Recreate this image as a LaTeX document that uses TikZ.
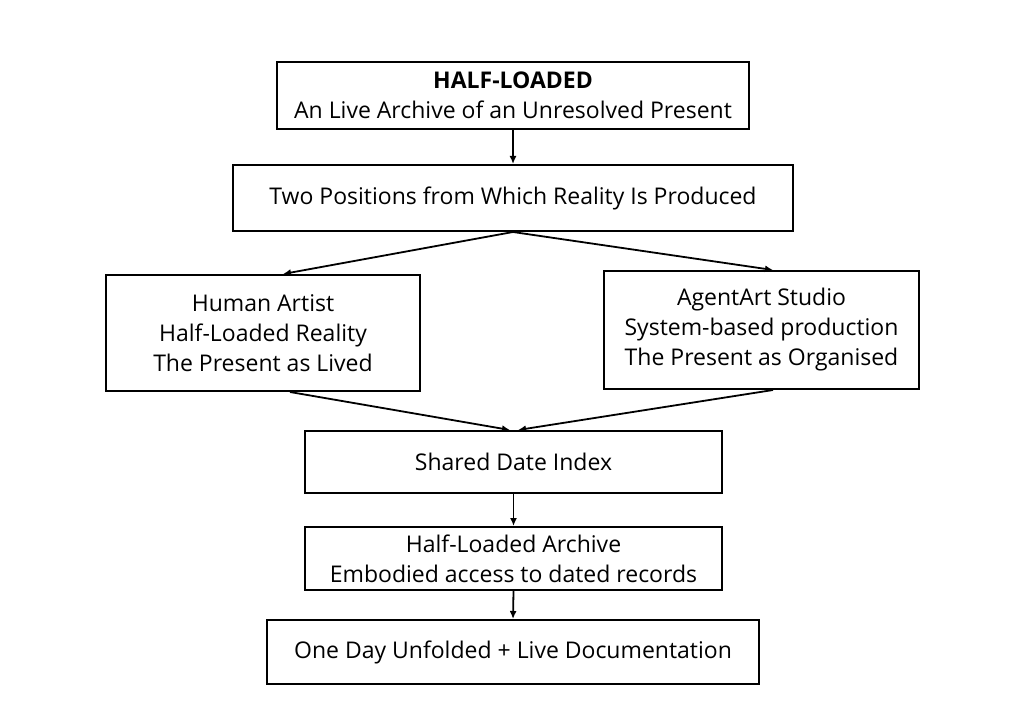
\documentclass[tikz,border=0pt]{standalone}
\usepackage{fontspec}
\setmainfont{Open Sans}
\usetikzlibrary{arrows.meta}
\begin{document}
\begin{tikzpicture}[x=1pt,y=-1pt,
  box/.style={draw, line width=2pt, align=center, inner sep=0pt, font=\fontsize{23}{30}\selectfont},
  conn/.style={line width=1.8pt, -{Latex[length=8pt,width=7pt]}}]
\useasboundingbox (0,0) rectangle (1024,727);
\node[box, minimum width=472, minimum height=67] (top) at (513,95.5) {\textbf{HALF-LOADED}\\An Live Archive of an Unresolved Present};
\node[box, minimum width=560, minimum height=66] (two) at (513,198) {Two Positions from Which Reality Is Produced};
\node[box, minimum width=314, minimum height=116] (hum) at (263,333) {Human Artist\\Half-Loaded Reality\\The Present as Lived};
\node[box, minimum width=315, minimum height=118] (agent) at (761.5,330) {AgentArt Studio\\System-based production\\The Present as Organised};
\node[box, minimum width=417, minimum height=62] (idx) at (513.5,462) {Shared Date Index};
\node[box, minimum width=417, minimum height=63] (arch) at (513.5,558.5) {Half-Loaded Archive\\Embodied access to dated records};
\node[box, minimum width=492, minimum height=64] (day) at (513,652) {One Day Unfolded + Live Documentation};
\draw[conn] (top.south) -- (two.north);
\draw[conn] (two.south) -- ([xshift=20pt]hum.north);
\draw[conn] (two.south) -- ([xshift=11.5pt]agent.north);
\draw[conn] ([xshift=27pt]hum.south) -- ([xshift=-3.5pt]idx.north);
\draw[conn] ([xshift=11.5pt]agent.south) -- ([xshift=4.5pt]idx.north);
\draw[conn] (idx.south) -- (arch.north);
\draw[conn] (arch.south) -- (day.north);
\end{tikzpicture}
\end{document}
